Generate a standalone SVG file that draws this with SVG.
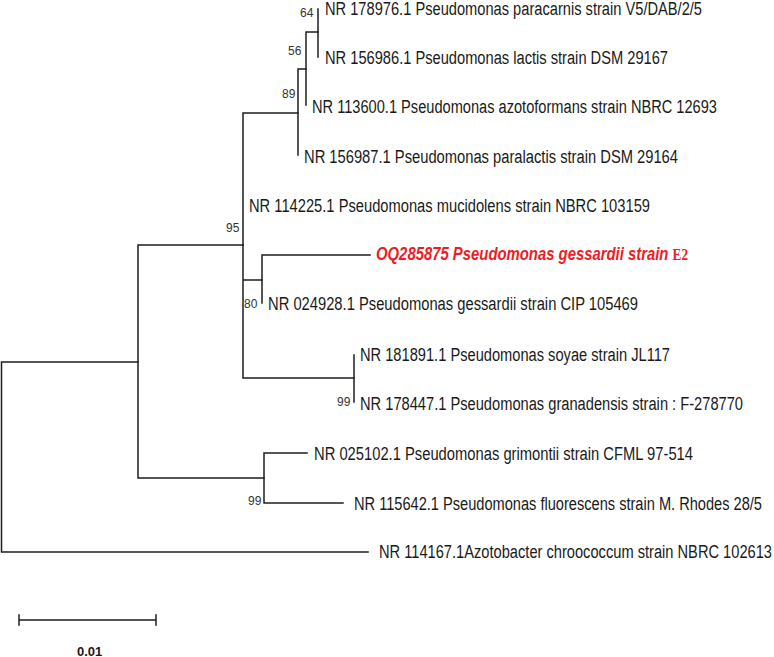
<svg xmlns="http://www.w3.org/2000/svg" width="774" height="657" viewBox="0 0 774 657">
<style>
.br{fill:none;stroke:#1e1e1e;stroke-width:1.5;stroke-linecap:square}
.lf{font-family:'Liberation Sans Narrow','Arial Narrow','Liberation Sans',Arial,sans-serif;font-size:18px;fill:#1a1a1a}
.bs{font-family:'Liberation Sans Narrow','Arial Narrow','Liberation Sans',Arial,sans-serif;font-size:12px;fill:#333}
.red{font-family:'Liberation Sans Narrow','Arial Narrow','Liberation Sans',Arial,sans-serif;font-size:18px;font-weight:bold;font-style:italic;fill:#ee1c24}
.redE{font-family:'Liberation Serif','Times New Roman',serif;font-size:16px;font-weight:bold;font-style:normal;fill:#ee1c24}
.sc{font-family:'Liberation Sans Narrow','Arial Narrow','Liberation Sans',Arial,sans-serif;font-size:13px;font-weight:bold;fill:#1a1a1a}
</style>
<rect width="774" height="657" fill="#ffffff"/>
<g id="connectors">
<path class="br" d="M1.5,362 V552 M1.5,362 H138 M1.5,552 H368"/>
<path class="br" d="M138,245 V478 M138,245 H243 M138,478 H264"/>
<path class="br" d="M243,113 V378 M243,113 H298 M243,280 H262 M243,378 H354"/>
<path class="br" d="M298,69 V155 M298,69 H306"/>
<path class="br" d="M306,32 V105 M306,32 H318"/>
<path class="br" d="M318,9 V57"/>
<path class="br" d="M262,255 V303 M262,255 H370"/>
<path class="br" d="M354,355 V402"/>
<path class="br" d="M264,453 V503 M264,453 H307 M264,503 H343"/>
</g>
<g id="leaf-paracarnis"><text class="lf" x="325" y="15" textLength="377" lengthAdjust="spacingAndGlyphs">NR 178976.1 Pseudomonas paracarnis strain V5/DAB/2/5</text></g>
<g id="leaf-lactis"><text class="lf" x="325" y="64" textLength="343" lengthAdjust="spacingAndGlyphs">NR 156986.1 Pseudomonas lactis strain DSM 29167</text></g>
<g id="leaf-azotoformans"><text class="lf" x="312" y="113" textLength="405" lengthAdjust="spacingAndGlyphs">NR 113600.1 Pseudomonas azotoformans strain NBRC 12693</text></g>
<g id="leaf-paralactis"><text class="lf" x="304" y="163" textLength="374" lengthAdjust="spacingAndGlyphs">NR 156987.1 Pseudomonas paralactis strain DSM 29164</text></g>
<g id="leaf-mucidolens"><text class="lf" x="249" y="212" textLength="401" lengthAdjust="spacingAndGlyphs">NR 114225.1 Pseudomonas mucidolens strain NBRC 103159</text></g>
<g id="leaf-E2"><text class="red" x="376" y="260" textLength="312" lengthAdjust="spacingAndGlyphs">OQ285875 Pseudomonas gessardii strain <tspan class="redE">E2</tspan></text></g>
<g id="leaf-gessardii"><text class="lf" x="268" y="310" textLength="370" lengthAdjust="spacingAndGlyphs">NR 024928.1 Pseudomonas gessardii strain CIP 105469</text></g>
<g id="leaf-soyae"><text class="lf" x="360" y="361" textLength="310" lengthAdjust="spacingAndGlyphs">NR 181891.1 Pseudomonas soyae strain JL117</text></g>
<g id="leaf-granadensis"><text class="lf" x="360" y="410" textLength="383" lengthAdjust="spacingAndGlyphs">NR 178447.1 Pseudomonas granadensis strain : F-278770</text></g>
<g id="leaf-grimontii"><text class="lf" x="314" y="460" textLength="379" lengthAdjust="spacingAndGlyphs">NR 025102.1 Pseudomonas grimontii strain CFML 97-514</text></g>
<g id="leaf-fluorescens"><text class="lf" x="354" y="510" textLength="408" lengthAdjust="spacingAndGlyphs">NR 115642.1 Pseudomonas fluorescens strain M. Rhodes 28/5</text></g>
<g id="leaf-azotobacter"><text class="lf" x="379" y="558" textLength="393" lengthAdjust="spacingAndGlyphs">NR 114167.1Azotobacter chroococcum strain NBRC 102613</text></g>
<g id="bootstrap">
<text class="bs" x="300" y="17">64</text>
<text class="bs" x="288" y="55">56</text>
<text class="bs" x="282" y="98">89</text>
<text class="bs" x="226" y="232">95</text>
<text class="bs" x="244" y="308">80</text>
<text class="bs" x="337" y="406">99</text>
<text class="bs" x="248" y="505">99</text>
</g>
<g id="scalebar">
<path class="br" d="M19,620 H156 M19,615 V625 M156,615 V625"/>
<text class="sc" x="77" y="656">0.01</text>
</g>
</svg>
